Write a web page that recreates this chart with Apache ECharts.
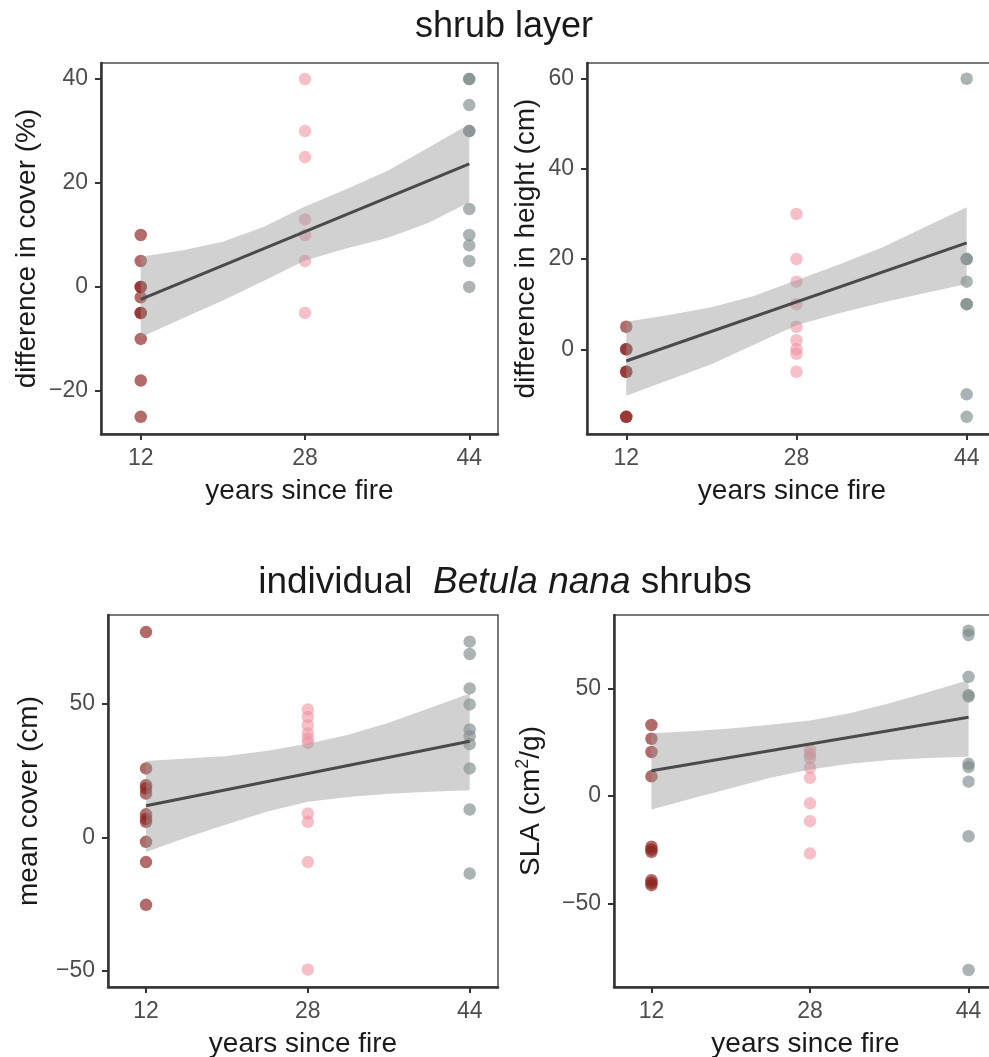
<!DOCTYPE html>
<html>
<head>
<meta charset="utf-8">
<script src="https://cdn.jsdelivr.net/npm/echarts@6/dist/echarts.min.js"></script>
<style>
  html, body { margin: 0; padding: 0; background: #fff; }
  #chart { width: 989px; height: 1057px; }
</style>
</head>
<body>
<div id="chart"></div>
<script>
// years since fire (the three sites) and axis ticks
var years = [12, 28, 44];
var xTicks = [12, 28, 44];
var bandX = [12, 16, 20, 24, 28, 32, 36, 40, 44];
var fitX = [12, 44];

// shrub layer: difference in cover (%)
var cover12 = [10, 5, 0, 0, -2, -5, -5, -10, -18, -25];
var cover28 = [40, 30, 25, 13, 10, 5, -5];
var cover44 = [40, 40, 35, 30, 30, 15, 10, 8, 5, 0];
var coverFit = [-2.4, 23.7];
var coverUpper = [5.8, 7.0, 8.7, 11.6, 15.5, 18.8, 22.3, 26.8, 31.3];
var coverLower = [-9.7, -6.1, -2.6, 1.2, 5.1, 7.4, 9.4, 12.3, 16.3];
var coverTicks = [-20, 0, 20, 40];

// shrub layer: difference in height (cm)
var height12 = [5, 0, 0, -5, -5, -15, -15];
var height28 = [30, 20, 15, 10, 5, 2, 0, -1, -5];
var height44 = [60, 20, 20, 15, 10, 10, -10, -15];
var heightFit = [-2.6, 23.6];
var heightUpper = [6.1, 7.6, 9.3, 11.8, 15.3, 18.8, 22.5, 27.0, 31.5];
var heightLower = [-10.3, -6.8, -3.3, 1.0, 5.3, 8.0, 10.3, 12.4, 14.5];
var heightTicks = [0, 20, 40, 60];

// Betula nana: mean cover (cm)
var mcover12 = [77, 25.9, 19.6, 18.4, 16.5, 8.7, 7, 5.9, -1.6, -9.2, -25.2];
var mcover28 = [48, 45.2, 42.1, 39, 37.1, 35.5, 9, 5.9, -9.2, -49.5];
var mcover44 = [73.4, 68.8, 55.9, 49.9, 40.5, 38, 35, 25.9, 10.5, -13.5];
var mcoverFit = [11.9, 36.1];
var mcoverUpper = [28.7, 29.6, 30.6, 32.5, 35.2, 38.5, 43, 48.5, 54.0];
var mcoverLower = [-5.4, 0, 5.0, 9.8, 13.4, 15.2, 16.4, 17.2, 17.7];
var mcoverTicks = [-50, 0, 50];

// Betula nana: SLA (cm2/g)
var sla12 = [33.1, 26.7, 20.5, 9.2, -23.6, -24.9, -26, -39.2, -40.4, -41.5];
var sla28 = [21.5, 19.5, 17.8, 13.2, 8.5, -3.4, -11.7, -26.8];
var sla44 = [77, 75, 55.5, 47, 46.3, 15, 13.5, 6.7, -18.7, -81];
var slaFit = [11.8, 36.7];
var slaUpper = [29.2, 30.2, 31.5, 33.2, 35.2, 38.5, 43.2, 48.5, 54.0];
var slaLower = [-6.2, -1.2, 3.6, 8.5, 12.4, 15.0, 16.8, 17.7, 18.3];
var slaTicks = [-50, 0, 50];

var groupColors = ['rgba(140,35,30,0.84)', 'rgba(238,145,160,0.72)', 'rgba(120,135,133,0.78)'];

var panels = [
  { groups: [cover12, cover28, cover44], fit: coverFit, upper: coverUpper, lower: coverLower, ticks: coverTicks,
    name: 'difference in cover (%)', nameGap: 60,
    grid: { left: 101, top: 63, width: 397, height: 371 }, x: [8.13, 46.8], y: [-28.3, 43.1] },
  { groups: [height12, height28, height44], fit: heightFit, upper: heightUpper, lower: heightLower, ticks: heightTicks,
    name: 'difference in height (cm)', nameGap: 47,
    grid: { left: 587, top: 63, width: 410, height: 371 }, x: [8.31, 46.85], y: [-18.8, 63.5] },
  { groups: [mcover12, mcover28, mcover44], fit: mcoverFit, upper: mcoverUpper, lower: mcoverLower, ticks: mcoverTicks,
    name: 'mean cover (cm)', nameGap: 65,
    grid: { left: 108, top: 615, width: 390, height: 372 }, x: [8.24, 46.8], y: [-56, 83.4] },
  { groups: [sla12, sla28, sla44], fit: slaFit, upper: slaUpper, lower: slaLower, ticks: slaTicks,
    name: '{a|SLA (cm}{s|2}{a|/g)}', nameGap: 66,
    grid: { left: 614, top: 615, width: 383, height: 372 }, x: [8.22, 46.87], y: [-88.9, 84.3] }
];

var font = '"Liberation Sans", Arial, sans-serif';
var grids = [], xAxes = [], yAxes = [], series = [];

panels.forEach(function (p, i) {
  grids.push(Object.assign({ show: true, borderColor: '#4d4d4d', borderWidth: 1.5, backgroundColor: '#fff',
    containLabel: false, outerBoundsMode: 'none' }, p.grid));
  xAxes.push({
    type: 'value', gridIndex: i, min: p.x[0], max: p.x[1],
    axisLine: { onZero: false, lineStyle: { color: '#333', width: 2.5 } },
    axisTick: { length: 6, customValues: xTicks, lineStyle: { color: '#333', width: 2 } },
    axisLabel: { customValues: xTicks, fontSize: 23, color: '#4d4d4d', margin: 13, fontFamily: font },
    splitLine: { show: false },
    name: 'years since fire', nameLocation: 'middle', nameGap: 43,
    nameTextStyle: { fontSize: 28, color: '#1a1a1a', fontFamily: font }
  });
  yAxes.push({
    type: 'value', gridIndex: i, min: p.y[0], max: p.y[1],
    axisLine: { show: true, onZero: false, lineStyle: { color: '#333', width: 2.5 } },
    axisTick: { show: true, length: 6, customValues: p.ticks, lineStyle: { color: '#333', width: 2 } },
    axisLabel: { customValues: p.ticks, fontSize: 23, color: '#4d4d4d', margin: 13, fontFamily: font,
      formatter: function (v) { return v < 0 ? '\u2212' + Math.abs(v) : String(v); } },
    splitLine: { show: false },
    name: p.name, nameLocation: 'middle', nameGap: p.nameGap,
    nameTextStyle: {
      fontSize: 28, color: '#1a1a1a', fontFamily: font,
      rich: {
        a: { fontSize: 28, lineHeight: 34, color: '#1a1a1a', fontFamily: font },
        s: { fontSize: 18, lineHeight: 14, verticalAlign: 'top', color: '#1a1a1a', fontFamily: font }
      }
    }
  });

  p.groups.forEach(function (vals, g) {
    series.push({
      type: 'scatter', xAxisIndex: i, yAxisIndex: i, symbolSize: 12.5, z: 2,
      itemStyle: { color: groupColors[g] },
      data: vals.map(function (v) { return [years[g], v]; })
    });
  });

  series.push({
    type: 'custom', xAxisIndex: i, yAxisIndex: i, z: 3, silent: true,
    data: [[bandX[0], p.lower[0]]],
    renderItem: function (params, api) {
      var pts = [];
      bandX.forEach(function (x, k) { pts.push(api.coord([x, p.upper[k]])); });
      for (var k = bandX.length - 1; k >= 0; k--) pts.push(api.coord([bandX[k], p.lower[k]]));
      return { type: 'polygon', shape: { points: pts }, style: { fill: 'rgba(153,153,153,0.45)' } };
    }
  });

  series.push({
    type: 'line', xAxisIndex: i, yAxisIndex: i, z: 4, showSymbol: false, silent: true,
    lineStyle: { color: '#4a4a4a', width: 3 },
    data: fitX.map(function (x, k) { return [x, p.fit[k]]; })
  });
});

var chart = echarts.init(document.getElementById('chart'));
chart.setOption({
  animation: false,
  backgroundColor: '#fff',
  textStyle: { fontFamily: font },
  grid: grids,
  xAxis: xAxes,
  yAxis: yAxes,
  series: series,
  graphic: [
    { type: 'text', x: 504, y: 27, style: { text: 'shrub layer', font: '36px ' + font, fill: '#1a1a1a', align: 'center', verticalAlign: 'middle' } },
    { type: 'text', x: 505, y: 583, style: {
        text: '{n|individual  }{i|Betula nana}{n| shrubs}',
        align: 'center', verticalAlign: 'middle', fill: '#1a1a1a',
        rich: {
          n: { fontSize: 37, fontFamily: font, fill: '#1a1a1a' },
          i: { fontSize: 37, fontFamily: font, fontStyle: 'italic', fill: '#1a1a1a' }
        }
      } }
  ]
});
</script>
</body>
</html>
